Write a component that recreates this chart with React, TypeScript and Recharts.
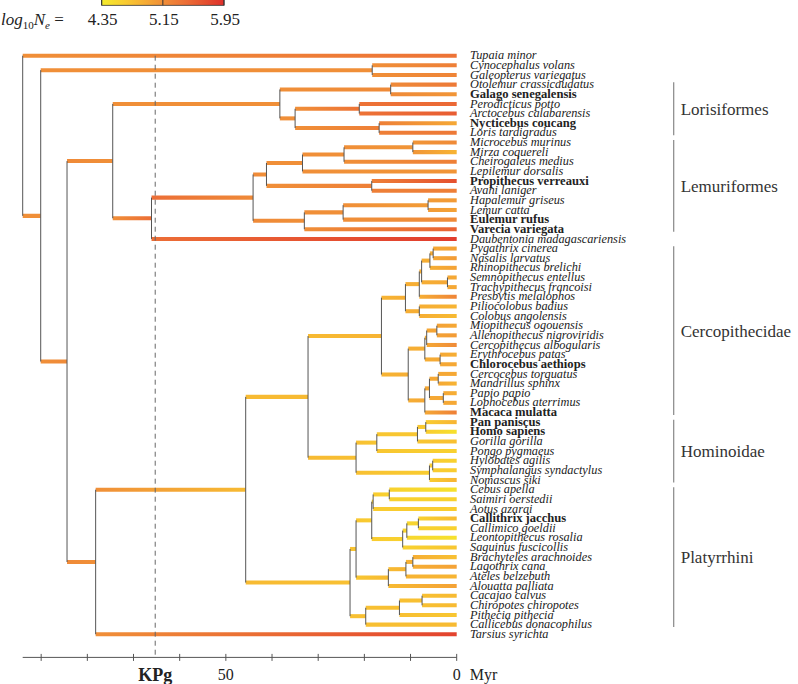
import { ComposedChart, XAxis, YAxis, ReferenceArea, ReferenceLine, Legend, Scatter } from 'recharts'

const species = [
  'Tupaia minor', 'Cynocephalus volans', 'Galeopterus variegatus', 'Otolemur crassicaudatus',
  'Galago senegalensis', 'Perodicticus potto', 'Arctocebus calabarensis', 'Nycticebus coucang',
  'Loris tardigradus', 'Microcebus murinus', 'Mirza coquereli', 'Cheirogaleus medius',
  'Lepilemur dorsalis', 'Propithecus verreauxi', 'Avahi laniger', 'Hapalemur griseus',
  'Lemur catta', 'Eulemur rufus', 'Varecia variegata', 'Daubentonia madagascariensis',
  'Pygathrix cinerea', 'Nasalis larvatus', 'Rhinopithecus brelichi', 'Semnopithecus entellus',
  'Trachypithecus francoisi', 'Presbytis melalophos', 'Piliocolobus badius', 'Colobus angolensis',
  'Miopithecus ogouensis', 'Allenopithecus nigroviridis', 'Cercopithecus albogularis', 'Erythrocebus patas',
  'Chlorocebus aethiops', 'Cercocebus torquatus', 'Mandrillus sphinx', 'Papio papio',
  'Lophocebus aterrimus', 'Macaca mulatta', 'Pan paniscus', 'Homo sapiens',
  'Gorilla gorilla', 'Pongo pygmaeus', 'Hylobates agilis', 'Symphalangus syndactylus',
  'Nomascus siki', 'Cebus apella', 'Saimiri oerstedii', 'Aotus azarai',
  'Callithrix jacchus', 'Callimico goeldii', 'Leontopithecus rosalia', 'Saguinus fuscicollis',
  'Brachyteles arachnoides', 'Lagothrix cana', 'Ateles belzebuth', 'Alouatta palliata',
  'Cacajao calvus', 'Chiropotes chiropotes', 'Pithecia pithecia', 'Callicebus donacophilus',
  'Tarsius syrichta',
]

const boldSpecies = [
  'Galago senegalensis', 'Nycticebus coucang', 'Propithecus verreauxi', 'Eulemur rufus',
  'Varecia variegata', 'Chlorocebus aethiops', 'Macaca mulatta', 'Pan paniscus',
  'Homo sapiens', 'Callithrix jacchus',
]

// log10 Ne at the tips
const tipNe = [
  5.4, 5.3, 5.25, 5.35, 5.1, 5.5, 5.6, 4.95, 5.35, 5.2,
  4.85, 5.3, 5.1, 5.7, 5.3, 5.05, 5.0, 5.2, 5.55, 5.85,
  5.0, 5.05, 5.0, 4.95, 4.95, 5.25, 4.85, 4.8, 4.95, 5.05,
  5.2, 4.9, 4.95, 4.95, 4.85, 4.9, 4.95, 5.3, 4.85, 4.45,
  4.75, 4.6, 4.6, 4.65, 4.85, 4.45, 4.6, 4.65, 4.8, 4.6,
  4.45, 4.7, 4.75, 5.0, 4.85, 5.0, 4.8, 4.8, 4.7, 4.8,
  5.8,
]

// internal nodes
const cladeNames = [
  'root', 'euarchonta', 'dermoptera', 'primates', 'strepsirrhini', 'lorisiformes', 'galagidae', 'lorisidae',
  'peroArcto', 'nyctLoris', 'lemurDaub', 'lemuriformes', 'lemA', 'lemB', 'cheirogaleidae', 'microMirza',
  'indriidae', 'lemuridae', 'lemC', 'hapaLemur', 'haplorhini', 'anthropoidea', 'catarrhini', 'cercopithecidae',
  'colobinae', 'colA', 'colB', 'colC', 'pygNas', 'semTrach', 'colAfr', 'cercopithecinae',
  'cercA', 'cercB', 'mioAllen', 'chloroEry', 'papionini', 'papA', 'cercMand', 'papLoph',
  'hominoidea', 'hominidae', 'homA', 'panHomo', 'hylobatidae', 'hylSym', 'platyrrhini', 'cebAtel',
  'cebidae', 'cebSaiAot', 'cebSai', 'callitrichidae', 'callB', 'callC', 'atelidae', 'atelA',
  'atelB', 'pitheciidae', 'pitA', 'pitB',
]

const cladeChildren: [string, string][] = [
  ['Tupaia minor', 'euarchonta'], ['dermoptera', 'primates'],
  ['Cynocephalus volans', 'Galeopterus variegatus'], ['strepsirrhini', 'haplorhini'],
  ['lorisiformes', 'lemurDaub'], ['galagidae', 'lorisidae'],
  ['Otolemur crassicaudatus', 'Galago senegalensis'], ['peroArcto', 'nyctLoris'],
  ['Perodicticus potto', 'Arctocebus calabarensis'], ['Nycticebus coucang', 'Loris tardigradus'],
  ['lemuriformes', 'Daubentonia madagascariensis'], ['lemA', 'lemuridae'],
  ['lemB', 'indriidae'], ['cheirogaleidae', 'Lepilemur dorsalis'],
  ['microMirza', 'Cheirogaleus medius'], ['Microcebus murinus', 'Mirza coquereli'],
  ['Propithecus verreauxi', 'Avahi laniger'], ['lemC', 'Varecia variegata'],
  ['hapaLemur', 'Eulemur rufus'], ['Hapalemur griseus', 'Lemur catta'],
  ['anthropoidea', 'Tarsius syrichta'], ['catarrhini', 'platyrrhini'],
  ['cercopithecidae', 'hominoidea'], ['colobinae', 'cercopithecinae'],
  ['colA', 'colAfr'], ['colB', 'Presbytis melalophos'],
  ['colC', 'semTrach'], ['pygNas', 'Rhinopithecus brelichi'],
  ['Pygathrix cinerea', 'Nasalis larvatus'], ['Semnopithecus entellus', 'Trachypithecus francoisi'],
  ['Piliocolobus badius', 'Colobus angolensis'], ['cercA', 'papionini'],
  ['cercB', 'chloroEry'], ['mioAllen', 'Cercopithecus albogularis'],
  ['Miopithecus ogouensis', 'Allenopithecus nigroviridis'], ['Erythrocebus patas', 'Chlorocebus aethiops'],
  ['papA', 'Macaca mulatta'], ['cercMand', 'papLoph'],
  ['Cercocebus torquatus', 'Mandrillus sphinx'], ['Papio papio', 'Lophocebus aterrimus'],
  ['hominidae', 'hylobatidae'], ['homA', 'Pongo pygmaeus'],
  ['panHomo', 'Gorilla gorilla'], ['Pan paniscus', 'Homo sapiens'],
  ['hylSym', 'Nomascus siki'], ['Hylobates agilis', 'Symphalangus syndactylus'],
  ['cebAtel', 'pitheciidae'], ['cebidae', 'atelidae'],
  ['cebSaiAot', 'callitrichidae'], ['cebSai', 'Aotus azarai'],
  ['Cebus apella', 'Saimiri oerstedii'], ['callB', 'Saguinus fuscicollis'],
  ['callC', 'Leontopithecus rosalia'], ['Callithrix jacchus', 'Callimico goeldii'],
  ['atelA', 'Alouatta palliata'], ['atelB', 'Ateles belzebuth'],
  ['Brachyteles arachnoides', 'Lagothrix cana'], ['pitA', 'Callicebus donacophilus'],
  ['pitB', 'Pithecia pithecia'], ['Cacajao calvus', 'Chiropotes chiropotes'],
]

// node ages, Myr
const cladeAges = [
  94, 90.1, 18.3, 84.4, 74.5, 38.3, 14.3, 35.0,
  21.1, 16.8, 66.1, 44.1, 41.2, 33.4, 24.4, 9.5,
  18.4, 33.0, 24.6, 6.2, 78.2, 45.7, 32.2, 16.3,
  11.1, 8.1, 7.6, 5.8, 5.1, 2.0, 8.1, 10.5,
  6.9, 6.5, 4.3, 3.6, 6.9, 5.9, 4.0, 2.9,
  21.8, 17.3, 8.5, 6.7, 5.9, 5.2, 23.1, 21.8,
  18.4, 18.1, 14.6, 11.7, 10.8, 8.3, 14.8, 11.0,
  9.5, 19.7, 12.4, 7.5,
]

// log10 Ne at internal nodes
const cladeNe = [
  5.15, 5.15, 5.15, 5.2, 5.15, 5.15, 5.2, 5.15,
  5.4, 5.3, 5.45, 5.2, 5.15, 5.15, 5.15, 5.1,
  5.3, 5.15, 5.15, 5.05, 5.15, 4.8, 4.8, 4.85,
  4.9, 4.9, 4.9, 4.9, 4.95, 4.95, 4.9, 4.9,
  4.9, 4.95, 5.0, 4.95, 4.95, 4.95, 4.95, 4.95,
  4.75, 4.7, 4.7, 4.65, 4.65, 4.65, 4.75, 4.7,
  4.65, 4.65, 4.6, 4.6, 4.55, 4.6, 4.8, 4.85,
  4.9, 4.75, 4.75, 4.75,
]

const groupNames = ['Lorisiformes', 'Lemuriformes', 'Cercopithecidae', 'Hominoidae', 'Platyrrhini']
const groupFirst = ['Otolemur crassicaudatus', 'Microcebus murinus', 'Pygathrix cinerea', 'Pan paniscus', 'Cebus apella']
const groupLast = ['Loris tardigradus', 'Varecia variegata', 'Macaca mulatta', 'Nomascus siki', 'Callicebus donacophilus']

const timeTicks = [90, 80, 70, 60, 50, 40, 30, 20, 10, 0]
const timeLabels = [50, 0]
const KPG = 65.3
const neTicks = [4.35, 5.15, 5.95]

const SERIF = 'Liberation Serif'
const BRACKET_AGE = -47
const HALF = 0.21

const stopNe = [4.35, 4.65, 4.9, 5.15, 5.45, 5.7, 5.95]
const stopColor = ['#f4ec2c', '#f9cc30', '#f6ae34', '#f08f38', '#ec6e36', '#e5502f', '#df2f2c']

function hex(c: string) {
  return [1, 3, 5].map((i) => parseInt(c.slice(i, i + 2), 16))
}

function neColor(v: number) {
  if (v <= stopNe[0]) return stopColor[0]
  for (let i = 1; i < stopNe.length; i++) {
    if (v <= stopNe[i]) {
      const t = (v - stopNe[i - 1]) / (stopNe[i] - stopNe[i - 1])
      const a = hex(stopColor[i - 1])
      const b = hex(stopColor[i])
      const c = a.map((x, k) => Math.round(x + (b[k] - x) * t))
      return `rgb(${c[0]},${c[1]},${c[2]})`
    }
  }
  return stopColor[stopColor.length - 1]
}

// tree layout
const yPos: Record<string, number> = {}
species.forEach((s, i) => { yPos[s] = i + 1 })
function nodeY(n: string): number {
  if (yPos[n] !== undefined) return yPos[n]
  const [a, b] = cladeChildren[cladeNames.indexOf(n)]
  yPos[n] = (nodeY(a) + nodeY(b)) / 2
  return yPos[n]
}
function nodeAge(n: string) {
  const i = cladeNames.indexOf(n)
  return i < 0 ? 0 : cladeAges[i]
}
function nodeNe(n: string) {
  const i = cladeNames.indexOf(n)
  return i < 0 ? tipNe[species.indexOf(n)] : cladeNe[i]
}

const branches = cladeNames.flatMap((c, i) =>
  cladeChildren[i].map((ch) => ({
    from: cladeAges[i],
    to: nodeAge(ch),
    y: nodeY(ch),
    neFrom: cladeNe[i],
    neTo: nodeNe(ch),
  }))
)

const connectors = cladeNames.map((c, i) => {
  const ys = cladeChildren[i].map(nodeY)
  return { age: cladeAges[i], y0: Math.min(...ys), y1: Math.max(...ys) }
})

const tips = species.map((s, i) => ({ age: 0, y: i + 1, name: s }))
const leafTicks = species.map((s, i) => i + 1)

function SpeciesTick(props: any) {
  const { x, y, payload } = props
  const name = species[payload.value - 1]
  if (!name) return null
  const bold = boldSpecies.includes(name)
  return (
    <text x={x} y={y} dy={3.6} textAnchor="start" fill="#222" fontFamily={SERIF}
      fontSize={bold ? 12.6 : 12.3} fontStyle={bold ? 'normal' : 'italic'} fontWeight={bold ? 'bold' : 'normal'}>
      {name}
    </text>
  )
}

function TimeTick(props: any) {
  const { x, y, payload } = props
  const v = payload.value
  if (v === KPG) {
    return (
      <text x={x} y={y + 24} textAnchor="middle" fontFamily={SERIF} fontWeight="bold" fontSize={18} fill="#222">
        KPg
      </text>
    )
  }
  return (
    <g>
      <line x1={x} x2={x} y1={y - 3.5} y2={y + 3.5} stroke="#555" />
      {timeLabels.includes(v) && (
        <text x={x} y={y + 23} textAnchor="middle" fontFamily={SERIF} fontSize={16} fill="#222">{v}</text>
      )}
      {v === 0 && (
        <text x={x + 13} y={y + 23} textAnchor="start" fontFamily={SERIF} fontSize={16} fill="#222">Myr</text>
      )}
    </g>
  )
}

function ColorBar() {
  const x0 = 101.7
  const x1 = 224
  const sx = (v: number) => x0 + ((v - neTicks[0]) / (neTicks[2] - neTicks[0])) * (x1 - x0)
  return (
    <svg width={260} height={32} style={{ display: 'block', overflow: 'visible' }}>
      <defs>
        <linearGradient id="cbar" x1="0" y1="0" x2="1" y2="0">
          {stopNe.map((v, i) => (
            <stop key={i} offset={(v - stopNe[0]) / (stopNe[6] - stopNe[0])} stopColor={stopColor[i]} />
          ))}
        </linearGradient>
      </defs>
      <text x={1} y={25} fontFamily={SERIF} fontSize={17} fill="#222">
        <tspan fontStyle="italic">log</tspan>
        <tspan fontSize={11} dy={4}>10</tspan>
        <tspan dy={-4} fontStyle="italic">N</tspan>
        <tspan fontSize={11} dy={4} fontStyle="italic">e</tspan>
        <tspan dy={-4}> =</tspan>
      </text>
      <rect x={x0} y={-2} width={x1 - x0} height={7.3} fill="url(#cbar)" stroke="#333" strokeWidth={0.8} />
      {neTicks.map((v) => (
        <g key={v}>
          <line x1={sx(v)} x2={sx(v)} y1={-2} y2={5.3} stroke="#333" strokeWidth={1} />
          <text x={sx(v) + 1} y={25} textAnchor="middle" fontFamily={SERIF} fontSize={17} fill="#222">
            {v.toFixed(2)}
          </text>
        </g>
      ))}
    </svg>
  )
}

export default function App() {
  return (
    <div style={{ position: 'absolute', left: 0, top: 0 }}>
      <ComposedChart width={798} height={684} data={tips} margin={{ top: 41.24, right: 0, bottom: 0, left: 22.7 }}>
        <defs>
          {branches.map((b, i) => (
            <linearGradient key={i} id={`br${i}`} x1="0" y1="0" x2="1" y2="0">
              <stop offset="0" stopColor={neColor(b.neFrom)} />
              <stop offset="1" stopColor={neColor(b.neTo)} />
            </linearGradient>
          ))}
        </defs>
        <XAxis type="number" dataKey="age" domain={[0, 94]} allowDataOverflow reversed ticks={[...timeTicks, KPG]} interval={0}
          height={26.6} tickSize={0} tickMargin={0} tickLine={false} axisLine={{ stroke: '#555' }}
          tick={<TimeTick />} />
        <YAxis type="number" dataKey="y" orientation="right" domain={[-0.5, 63.4]} allowDataOverflow reversed ticks={leafTicks}
          interval={0} width={341.3} tickSize={0} tickMargin={13.3} tickLine={false} axisLine={false}
          tick={<SpeciesTick />} />
        <Legend verticalAlign="middle" align="center" layout="horizontal"
          wrapperStyle={{ position: 'absolute', top: 0, left: 0, width: 260, height: 32 }}
          content={() => <ColorBar />} />
        <Scatter data={tips} dataKey="y" isAnimationActive={false} fill="none" legendType="none" shape={() => <g />} />
        <ReferenceLine segment={[{ x: KPG, y: 1 }, { x: KPG, y: 63.4 }]} stroke="#666" strokeWidth={1}
          strokeDasharray="5 4" ifOverflow="visible" />
        {branches.map((b, i) => (
          <ReferenceArea key={`a${i}`} x1={b.from} x2={b.to} y1={b.y - HALF} y2={b.y + HALF}
            fill={`url(#br${i})`} fillOpacity={1} stroke="none" ifOverflow="visible" />
        ))}
        {connectors.map((c, i) => (
          <ReferenceLine key={`c${i}`} segment={[{ x: c.age, y: c.y0 }, { x: c.age, y: c.y1 }]}
            stroke="#555" strokeWidth={1} ifOverflow="visible" />
        ))}
        {groupNames.map((g, i) => (
          <ReferenceLine key={g} ifOverflow="visible" stroke="#888" strokeWidth={1.2}
            segment={[{ x: BRACKET_AGE, y: species.indexOf(groupFirst[i]) + 0.75 },
              { x: BRACKET_AGE, y: species.indexOf(groupLast[i]) + 1.25 }]}
            label={{ value: g, position: 'right', offset: 7, fill: '#333', fontSize: 17, fontFamily: SERIF }} />
        ))}
      </ComposedChart>
    </div>
  )
}
